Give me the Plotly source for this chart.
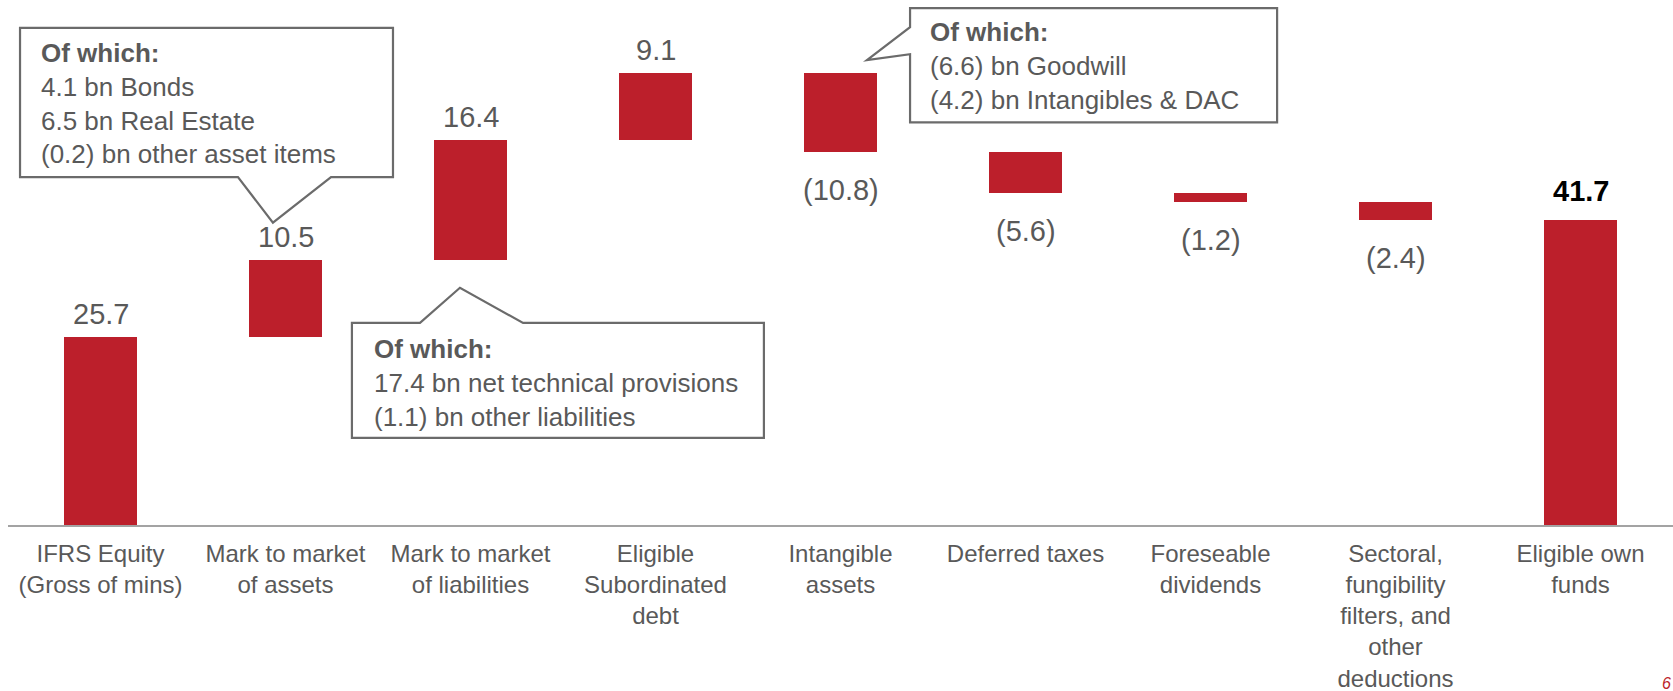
import plotly.graph_objects as go

# Own-funds bridge: IFRS equity to eligible own funds (EUR bn)
categories = [
    "IFRS Equity<br>(Gross of mins)",
    "Mark to market<br>of assets",
    "Mark to market<br>of liabilities",
    "Eligible<br>Subordinated<br>debt",
    "Intangible<br>assets",
    "Deferred taxes",
    "Foreseable<br>dividends",
    "Sectoral,<br>fungibility<br>filters, and<br>other<br>deductions",
    "Eligible own<br>funds",
]
steps = [25.7, 10.5, 16.4, 9.1, -10.8, -5.6, -1.2, -2.4, 41.7]
measures = ["absolute", "relative", "relative", "relative", "relative",
            "relative", "relative", "relative", "total"]
value_labels = ["25.7", "10.5", "16.4", "9.1", "(10.8)", "(5.6)", "(1.2)", "(2.4)", "41.7"]

callout_assets = ["<b>Of which:</b>", "4.1 bn Bonds", "6.5 bn Real Estate",
                  "(0.2) bn other asset items"]
callout_liabilities = ["<b>Of which:</b>", "17.4 bn net technical provisions",
                       "(1.1) bn other liabilities"]
callout_intangibles = ["<b>Of which:</b>", "(6.6) bn Goodwill",
                       "(4.2) bn Intangibles & DAC"]

RED = "#BC1F2B"
GREY_TEXT = "#595959"
BOX_LINE = "#6b6b6b"
TEXT_FONT = "Liberation Sans, Arial, sans-serif"

# floating bar geometry from the running total
bases, heights = [], []
running = 0.0
for step, kind in zip(steps, measures):
    if kind == "absolute":
        bases.append(0.0)
        heights.append(step)
        running = step
    elif kind == "total":
        bases.append(0.0)
        heights.append(running)
    else:
        lo = min(running, running + step)
        bases.append(lo)
        heights.append(abs(step))
        running += step

fig = go.Figure(
    go.Bar(
        x=categories,
        y=heights,
        base=bases,
        marker=dict(color=RED, line=dict(width=0)),
        width=0.395,
        hoverinfo="skip",
    )
)

annotations = []
for i, (step, kind, label) in enumerate(zip(steps, measures, value_labels)):
    top = bases[i] + heights[i]
    is_total = kind == "total"
    if step >= 0:
        annotations.append(dict(
            x=i, y=top, xref="x", yref="y", text=f"<b>{label}</b>" if is_total else label,
            showarrow=False, yanchor="bottom", yshift=11 if is_total else 5,
            font=dict(family=TEXT_FONT, size=29, color="#000000" if is_total else GREY_TEXT),
        ))
    else:
        annotations.append(dict(
            x=i, y=bases[i], xref="x", yref="y", text=label,
            showarrow=False, yanchor="top", yshift=-20,
            font=dict(family=TEXT_FONT, size=29, color=GREY_TEXT),
        ))


def callout_text(lines, x, y):
    return dict(
        x=x, y=y, xref="x", yref="y", text="<br>".join(lines), showarrow=False,
        xanchor="left", yanchor="top", align="left",
        font=dict(family=TEXT_FONT, size=26, color=GREY_TEXT),
    )


annotations += [
    callout_text(callout_assets, -0.33, 66.8),
    callout_text(callout_liabilities, 1.465, 26.4),
    callout_text(callout_intangibles, 4.475, 69.7),
]

# page number at the bottom-right corner
annotations.append(dict(
    x=1, y=0, xref="paper", yref="paper", text="<i>6</i>", showarrow=False,
    xanchor="right", yanchor="top", xshift=0, yshift=-148,
    font=dict(family=TEXT_FONT, size=16, color=RED),
))

box_style = dict(type="path", xref="x", yref="y",
                 line=dict(color=BOX_LINE, width=2.2), fillcolor="rgba(255,255,255,0)")

shapes = [
    # asset callout, pointer hanging below towards the second bar
    dict(path="M -0.435,67.9 L 1.581,67.9 L 1.581,47.5 L 1.246,47.5 "
              "L 0.932,41.3 L 0.743,47.5 L -0.435,47.5 Z", **box_style),
    # liabilities callout, pointer rising towards the third bar
    dict(path="M 1.359,27.6 L 1.727,27.6 L 1.943,32.4 L 2.284,27.6 "
              "L 3.586,27.6 L 3.586,11.9 L 1.359,11.9 Z", **box_style),
    # intangibles callout, pointer on the left edge towards the fifth bar
    dict(path="M 4.376,70.6 L 6.360,70.6 L 6.360,55.0 L 4.376,55.0 "
              "L 4.376,64.3 L 4.143,63.5 L 4.376,68.0 Z", **box_style),
]

fig.update_layout(
    width=1673,
    height=691,
    margin=dict(l=8, r=0, t=0, b=166, autoexpand=False),
    paper_bgcolor="white",
    plot_bgcolor="white",
    showlegend=False,
    bargap=0,
    annotations=annotations,
    shapes=shapes,
    xaxis=dict(
        type="category",
        range=[-0.5, 8.5],
        automargin=False,
        showline=True,
        linecolor="#a3a3a3",
        linewidth=2,
        showgrid=False,
        zeroline=False,
        ticks="",
        ticklabelstandoff=6,
        tickfont=dict(family=TEXT_FONT, size=24, color=GREY_TEXT),
        fixedrange=True,
    ),
    yaxis=dict(
        range=[0, 71.7],
        visible=False,
        automargin=False,
        showgrid=False,
        zeroline=False,
        fixedrange=True,
    ),
)

fig.write_html("out.html")
